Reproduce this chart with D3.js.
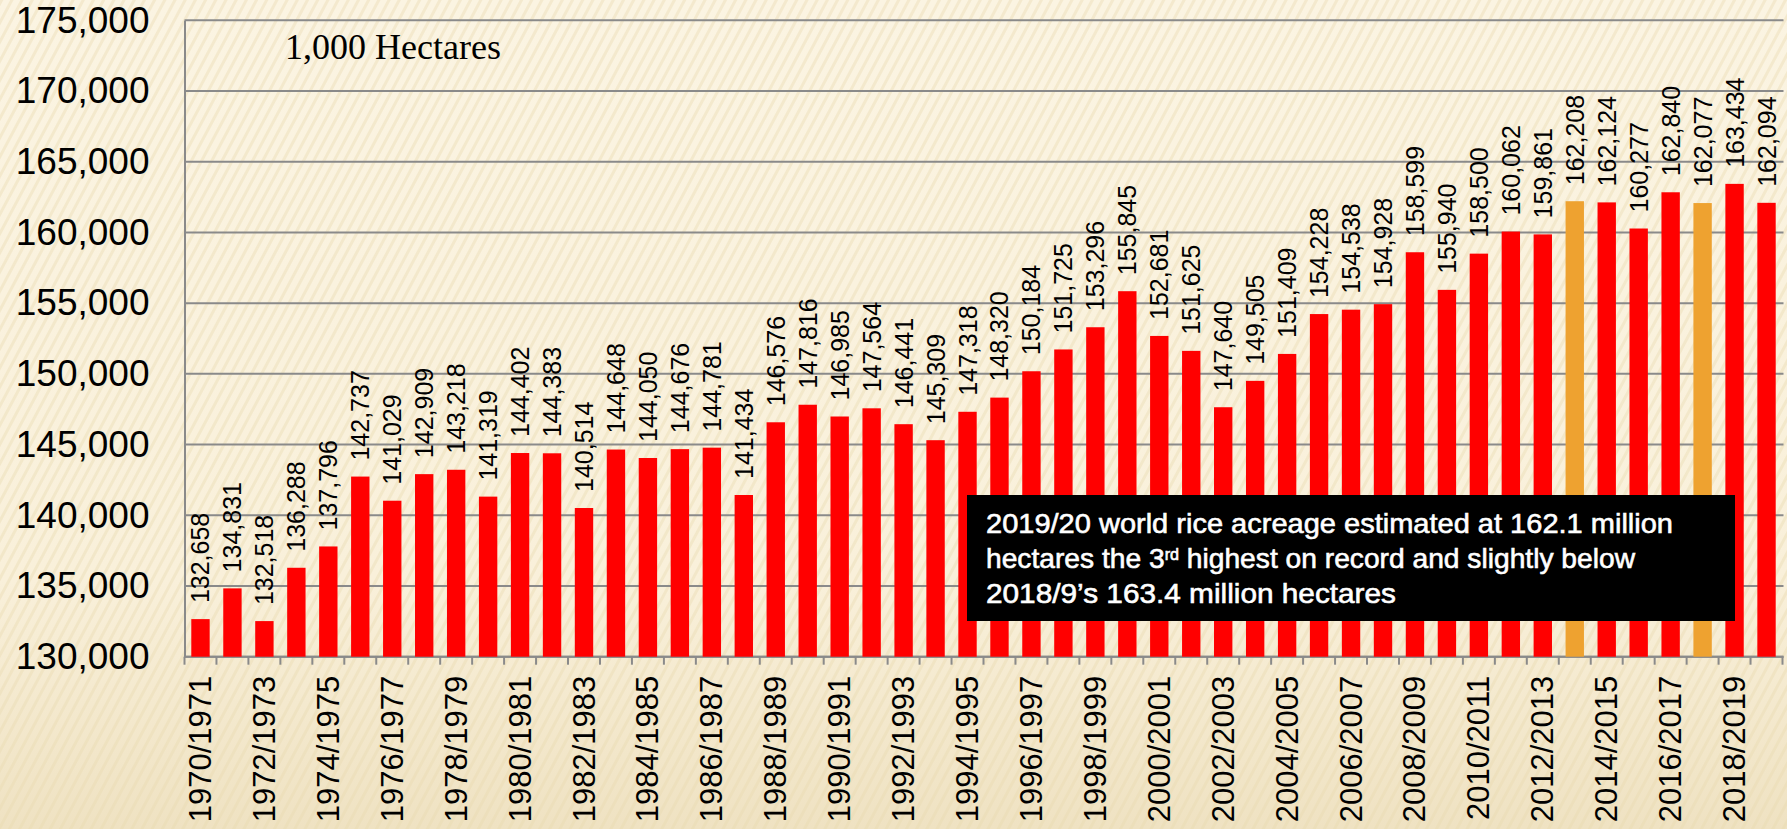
<!DOCTYPE html>
<html>
<head>
<meta charset="utf-8">
<script src="https://cdn.jsdelivr.net/npm/d3@7"></script>
<style>
  html, body { margin: 0; padding: 0; background: #faf2de; }
  svg { display: block; }
</style>
</head>
<body>
<svg width="1787" height="829"></svg>
<script>
var svg = d3.select("svg"),
    width = +svg.attr("width"),
    height = +svg.attr("height");

var categories = [
  "1970/1971","1971/1972","1972/1973","1973/1974","1974/1975","1975/1976","1976/1977","1977/1978","1978/1979","1979/1980",
  "1980/1981","1981/1982","1982/1983","1983/1984","1984/1985","1985/1986","1986/1987","1987/1988","1988/1989","1989/1990",
  "1990/1991","1991/1992","1992/1993","1993/1994","1994/1995","1995/1996","1996/1997","1997/1998","1998/1999","1999/2000",
  "2000/2001","2001/2002","2002/2003","2003/2004","2004/2005","2005/2006","2006/2007","2007/2008","2008/2009","2009/2010",
  "2010/2011","2011/2012","2012/2013","2013/2014","2014/2015","2015/2016","2016/2017","2017/2018","2018/2019","2019/2020"
];

var area = [
  132658, 134831, 132518, 136288, 137796, 142737, 141029, 142909, 143218, 141319,
  144402, 144383, 140514, 144648, 144050, 144676, 144781, 141434, 146576, 147816,
  146985, 147564, 146441, 145309, 147318, 148320, 150184, 151725, 153296, 155845,
  152681, 151625, 147640, 149505, 151409, 154228, 154538, 154928, 158599, 155940,
  158500, 160062, 159861, 162208, 162124, 160277, 162840, 162077, 163434, 162094
];

var highlighted = ["2013/2014", "2017/2018"];

var yTicks = d3.range(130000, 175001, 5000);

var unitLabel = "1,000 Hectares";

var noteLines = [
  ["2019/20 world rice acreage estimated at 162.1 million"],
  ["hectares the 3", "rd", " highest on record and slightly below"],
  ["2018/9\u2019s 163.4 million hectares"]
];

var plotLeft = 184.5, plotRight = 1782.5, plotTop = 20.3, plotBottom = 656.7;

var x = d3.scaleBand()
    .domain(categories)
    .range([plotLeft, plotRight])
    .paddingInner(0.425)
    .paddingOuter(0.2125);

var y = d3.scaleLinear()
    .domain([130000, 175000])
    .range([plotBottom, plotTop]);

// background texture
var defs = svg.append("defs");
var grad = defs.append("linearGradient")
    .attr("id", "bg")
    .attr("x1", 0).attr("y1", 0).attr("x2", 0).attr("y2", 1);
grad.append("stop").attr("offset", "0%").attr("stop-color", "#fbf4e2");
grad.append("stop").attr("offset", "70%").attr("stop-color", "#f9f0da");
grad.append("stop").attr("offset", "100%").attr("stop-color", "#efe2c2");

var pat = defs.append("pattern")
    .attr("id", "stripes")
    .attr("patternUnits", "userSpaceOnUse")
    .attr("width", 9).attr("height", 9)
    .attr("patternTransform", "rotate(28)");
pat.append("rect").attr("width", 3).attr("height", 9)
    .attr("fill", "#e9d9b0").attr("opacity", 0.4);

svg.append("rect").attr("width", width).attr("height", height).attr("fill", "url(#bg)");
svg.append("rect").attr("width", width).attr("height", height).attr("fill", "url(#stripes)");

// gridlines
svg.append("g")
  .selectAll("line")
  .data(yTicks)
  .enter().append("line")
    .attr("x1", plotLeft)
    .attr("x2", plotRight + 1)
    .attr("y1", function(d) { return y(d); })
    .attr("y2", function(d) { return y(d); })
    .attr("stroke", "#8a8a8a")
    .attr("stroke-width", 2);

// y axis
var yAxis = svg.append("g")
    .attr("transform", "translate(" + plotLeft + ",0)")
    .call(d3.axisLeft(y).tickValues(yTicks).tickFormat(d3.format(",")).tickSize(0).tickPadding(35));
yAxis.select(".domain").attr("stroke", "#8a8a8a").attr("stroke-width", 2);
yAxis.selectAll("text")
    .attr("fill", "#000")
    .style("font-family", "'Liberation Sans', Arial, sans-serif")
    .style("font-size", "37px");

// x axis line and ticks at band boundaries
var step = x.step();
var boundaries = categories.map(function(c) { return x(c) - step * x.paddingInner() / 2; });
boundaries.push(plotRight);

svg.append("line")
    .attr("x1", plotLeft).attr("x2", plotRight + 1)
    .attr("y1", plotBottom).attr("y2", plotBottom)
    .attr("stroke", "#8a8a8a").attr("stroke-width", 2);

svg.append("g")
  .selectAll("line")
  .data(boundaries)
  .enter().append("line")
    .attr("x1", function(d) { return d; })
    .attr("x2", function(d) { return d; })
    .attr("y1", plotBottom)
    .attr("y2", plotBottom + 8)
    .attr("stroke", "#8a8a8a")
    .attr("stroke-width", 2);

// x labels, every other category
svg.append("g")
  .selectAll("text")
  .data(categories.filter(function(d, i) { return i % 2 === 0; }))
  .enter().append("text")
    .attr("transform", function(d) {
      return "translate(" + (x(d) + x.bandwidth() / 2) + "," + (plotBottom + 19) + ") rotate(-90)";
    })
    .attr("text-anchor", "end")
    .attr("dominant-baseline", "central")
    .style("font-family", "'Liberation Sans', Arial, sans-serif")
    .style("font-size", "31px")
    .text(function(d) { return d; });

// bars
svg.append("g")
  .selectAll("rect")
  .data(categories)
  .enter().append("rect")
    .attr("x", function(d) { return x(d); })
    .attr("width", x.bandwidth())
    .attr("y", function(d, i) { return y(area[i]); })
    .attr("height", function(d, i) { return plotBottom - y(area[i]); })
    .attr("fill", function(d) {
      return highlighted.indexOf(d) >= 0 ? "#eea230" : "#ff0000";
    });

// value labels
svg.append("g")
  .selectAll("text")
  .data(categories)
  .enter().append("text")
    .attr("transform", function(d, i) {
      return "translate(" + (x(d) + x.bandwidth() / 2) + "," + (y(area[i]) - 16) + ") rotate(-90)";
    })
    .attr("text-anchor", "start")
    .attr("dominant-baseline", "central")
    .style("font-family", "'Liberation Sans', Arial, sans-serif")
    .style("font-size", "25px")
    .text(function(d, i) { return d3.format(",")(area[i]); });

// unit label
svg.append("text")
    .attr("x", 285)
    .attr("y", 59)
    .style("font-family", "'Liberation Serif', 'Times New Roman', serif")
    .style("font-size", "36px")
    .text(unitLabel);

// note box
svg.append("rect")
    .attr("x", 967).attr("y", 495)
    .attr("width", 768).attr("height", 126)
    .attr("fill", "#000");

var noteWidths = [687, 649, 410];
noteLines.forEach(function(parts, i) {
  var t = svg.append("text")
      .attr("x", 986)
      .attr("y", 533 + i * 35)
      .attr("fill", "#fff")
      .attr("stroke", "#fff")
      .attr("stroke-width", 0.6)
      .attr("textLength", noteWidths[i])
      .attr("lengthAdjust", "spacingAndGlyphs")
      .style("font-family", "'Liberation Sans', Arial, sans-serif")
      .style("font-size", "28px");
  parts.forEach(function(p, j) {
    var s = t.append("tspan").text(p);
    if (j === 1) s.attr("baseline-shift", "super").style("font-size", "16px");
  });
});
</script>
</body>
</html>
